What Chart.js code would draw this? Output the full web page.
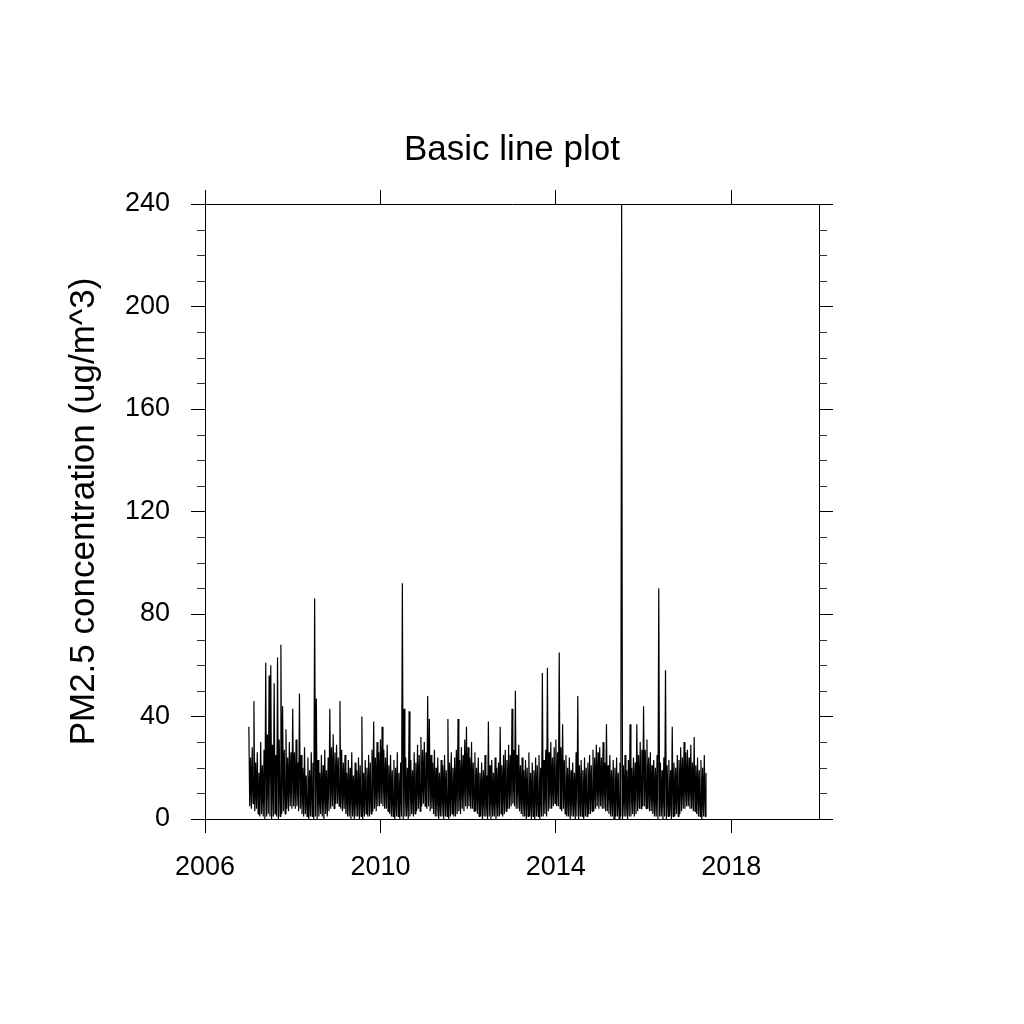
<!DOCTYPE html>
<html>
<head>
<meta charset="utf-8">
<title>Basic line plot</title>
<script src="https://cdn.jsdelivr.net/npm/chart.js@4.4.1/dist/chart.umd.min.js"></script>
<style>
  html, body { margin: 0; padding: 0; background: #fff; }
  canvas { display: block; }
</style>
</head>
<body>
<canvas id="plot" width="1024" height="1024"></canvas>
<script>
'use strict';

// weekly PM2.5 readings (ug/m^3), one array per year
const pm2007 = [36,5, 24,4, 28,6, 46,3, 22,4, 26,2, 18,1, 30,2, 21,1, 27,0, 61,1, 33,2, 56,1, 60,0, 29,1, 53,2, 25,1, 63,0, 31,1, 68,2, 44,3, 27,2, 35,4, 24,3, 30,5, 26,4];
const pm2008 = [43,5, 26,4, 31,5, 22,3, 49,4, 25,2, 20,1, 28,2, 17,1, 24,0, 19,1, 26,1, 22,0, 86,1, 47,0, 23,1, 18,2, 25,1, 21,0, 27,2, 19,1, 24,3, 43,4, 28,5, 33,4, 26,6];
const pm2009 = [29,6, 24,5, 46,4, 27,3, 22,4, 25,2, 18,1, 23,1, 20,0, 26,1, 17,0, 22,1, 19,1, 24,0, 21,1, 40,0, 18,1, 23,2, 20,1, 25,1, 22,2, 27,3, 38,4, 24,3, 30,5, 26,5];
const pm2010 = [31,6, 36,5, 27,4, 24,4, 29,3, 21,2, 25,1, 19,1, 23,0, 20,1, 26,1, 18,0, 22,1, 92,0, 43,1, 24,1, 20,0, 42,1, 23,2, 19,1, 26,2, 22,3, 29,4, 25,3, 32,5, 27,6];
const pm2011 = [30,5, 26,4, 48,5, 39,3, 25,4, 22,2, 27,1, 20,1, 24,0, 18,1, 23,1, 21,0, 25,1, 19,1, 39,0, 22,1, 26,2, 20,1, 24,1, 27,2, 39,3, 23,2, 28,4, 25,3, 31,5, 36,4];
const pm2012 = [28,5, 24,4, 30,4, 22,3, 26,3, 20,2, 24,1, 18,1, 22,0, 19,1, 25,1, 17,0, 38,1, 21,0, 23,1, 18,1, 24,0, 20,1, 22,1, 36,2, 21,1, 25,2, 27,3, 23,4, 29,4, 25,5];
const pm2013 = [43,6, 27,5, 50,4, 25,4, 29,3, 21,2, 24,1, 19,1, 23,0, 20,1, 26,1, 18,0, 22,1, 19,0, 24,1, 21,1, 25,0, 20,1, 57,1, 23,2, 27,1, 59,3, 26,4, 30,4, 24,5, 28,6];
const pm2014 = [31,5, 26,5, 65,4, 28,3, 37,4, 23,2, 25,1, 20,1, 24,0, 19,1, 22,1, 18,0, 26,1, 48,0, 21,1, 23,1, 19,0, 24,1, 20,1, 22,2, 25,2, 21,3, 27,3, 24,4, 29,5, 26,4];
const pm2015 = [28,5, 24,4, 30,4, 22,3, 37,3, 21,2, 25,1, 19,1, 23,0, 20,1, 24,1, 18,0, 22,1, 240,0, 21,1, 25,1, 19,0, 23,1, 37,1, 20,2, 24,1, 22,2, 37,3, 25,4, 30,4, 27,5];
const pm2016 = [44,5, 27,4, 31,4, 24,3, 26,3, 21,2, 23,1, 20,1, 25,0, 90,1, 22,1, 19,0, 24,1, 58,0, 21,1, 23,1, 19,0, 36,1, 22,1, 20,2, 25,1, 23,2, 28,3, 24,4, 30,4, 26,5];
const pm2017 = [27,5, 24,4, 29,4, 22,3, 32,3, 21,2, 24,1, 19,1, 23,0, 20,1, 25,1, 18];

const years = [2007, 2008, 2009, 2010, 2011, 2012, 2013, 2014, 2015, 2016, 2017];
const yearValues = [pm2007, pm2008, pm2009, pm2010, pm2011, pm2012, pm2013, pm2014, pm2015, pm2016, pm2017];

const xTicks = [2006, 2010, 2014, 2018];
const yTicks = [0, 40, 80, 120, 160, 200, 240];

const fontFamily = '"Liberation Sans", Arial, Helvetica, sans-serif';
const black = '#000';

// decimal-year x positions for each weekly value
const points = [];
years.forEach(function (yr, i) {
  yearValues[i].forEach(function (v, k) {
    points.push({ x: yr + k / 52, y: v });
  });
});

// minor ticks on left/right axes every 10 units
const minorTicks = {
  id: 'minorTicks',
  afterDraw(chart) {
    const ctx = chart.ctx;
    const y = chart.scales.y;
    const area = chart.chartArea;
    ctx.save();
    ctx.strokeStyle = '#333';
    ctx.lineWidth = 1;
    for (let v = y.min; v <= y.max; v += 10) {
      if (v % 40 === 0) continue;
      const py = Math.round(y.getPixelForValue(v)) + 0.5;
      ctx.beginPath();
      ctx.moveTo(area.left - 8, py);
      ctx.lineTo(area.left, py);
      ctx.moveTo(area.right, py);
      ctx.lineTo(area.right + 8, py);
      ctx.stroke();
    }
    ctx.restore();
  }
};

const axisGrid = {
  drawOnChartArea: false,
  drawTicks: true,
  tickLength: 14,
  tickColor: black,
  tickWidth: 1
};
const axisBorder = { display: true, color: black, width: 1 };

new Chart(document.getElementById('plot'), {
  type: 'line',
  data: {
    datasets: [{
      data: points,
      borderColor: black,
      borderWidth: 1.2,
      borderJoinStyle: 'bevel',
      pointRadius: 0,
      tension: 0,
      fill: false
    }]
  },
  options: {
    responsive: false,
    animation: false,
    layout: { padding: 0 },
    plugins: {
      legend: { display: false },
      tooltip: { enabled: false },
      title: {
        display: true,
        text: 'Basic line plot',
        color: black,
        font: { family: fontFamily, size: 35, weight: 'normal' },
        padding: { top: 129, bottom: 13 }
      }
    },
    scales: {
      x: {
        type: 'linear',
        position: 'bottom',
        min: 2006,
        max: 2020,
        afterBuildTicks(scale) { scale.ticks = xTicks.map(v => ({ value: v })); },
        afterFit(scale) { scale.height = 205; },
        ticks: {
          color: black,
          padding: 18,
          maxRotation: 0,
          font: { family: fontFamily, size: 27 },
          callback: v => String(v)
        },
        grid: axisGrid,
        border: axisBorder
      },
      xTop: {
        type: 'linear',
        position: 'top',
        min: 2006,
        max: 2020,
        afterBuildTicks(scale) { scale.ticks = xTicks.map(v => ({ value: v })); },
        afterFit(scale) { scale.height = 20; },
        ticks: { display: false },
        grid: axisGrid,
        border: axisBorder
      },
      y: {
        position: 'left',
        min: 0,
        max: 240,
        afterBuildTicks(scale) { scale.ticks = yTicks.map(v => ({ value: v })); },
        afterFit(scale) { scale.width = 205; },
        ticks: {
          color: black,
          padding: 21,
          font: { family: fontFamily, size: 27 }
        },
        title: {
          display: true,
          text: 'PM2.5 concentration (ug/m^3)',
          color: black,
          font: { family: fontFamily, size: 35 },
          padding: { top: 63, bottom: 0 }
        },
        grid: axisGrid,
        border: axisBorder
      },
      yRight: {
        position: 'right',
        min: 0,
        max: 240,
        afterBuildTicks(scale) { scale.ticks = yTicks.map(v => ({ value: v })); },
        afterFit(scale) { scale.width = 205; },
        ticks: { display: false },
        grid: axisGrid,
        border: axisBorder
      }
    }
  },
  plugins: [minorTicks]
});
</script>
</body>
</html>
